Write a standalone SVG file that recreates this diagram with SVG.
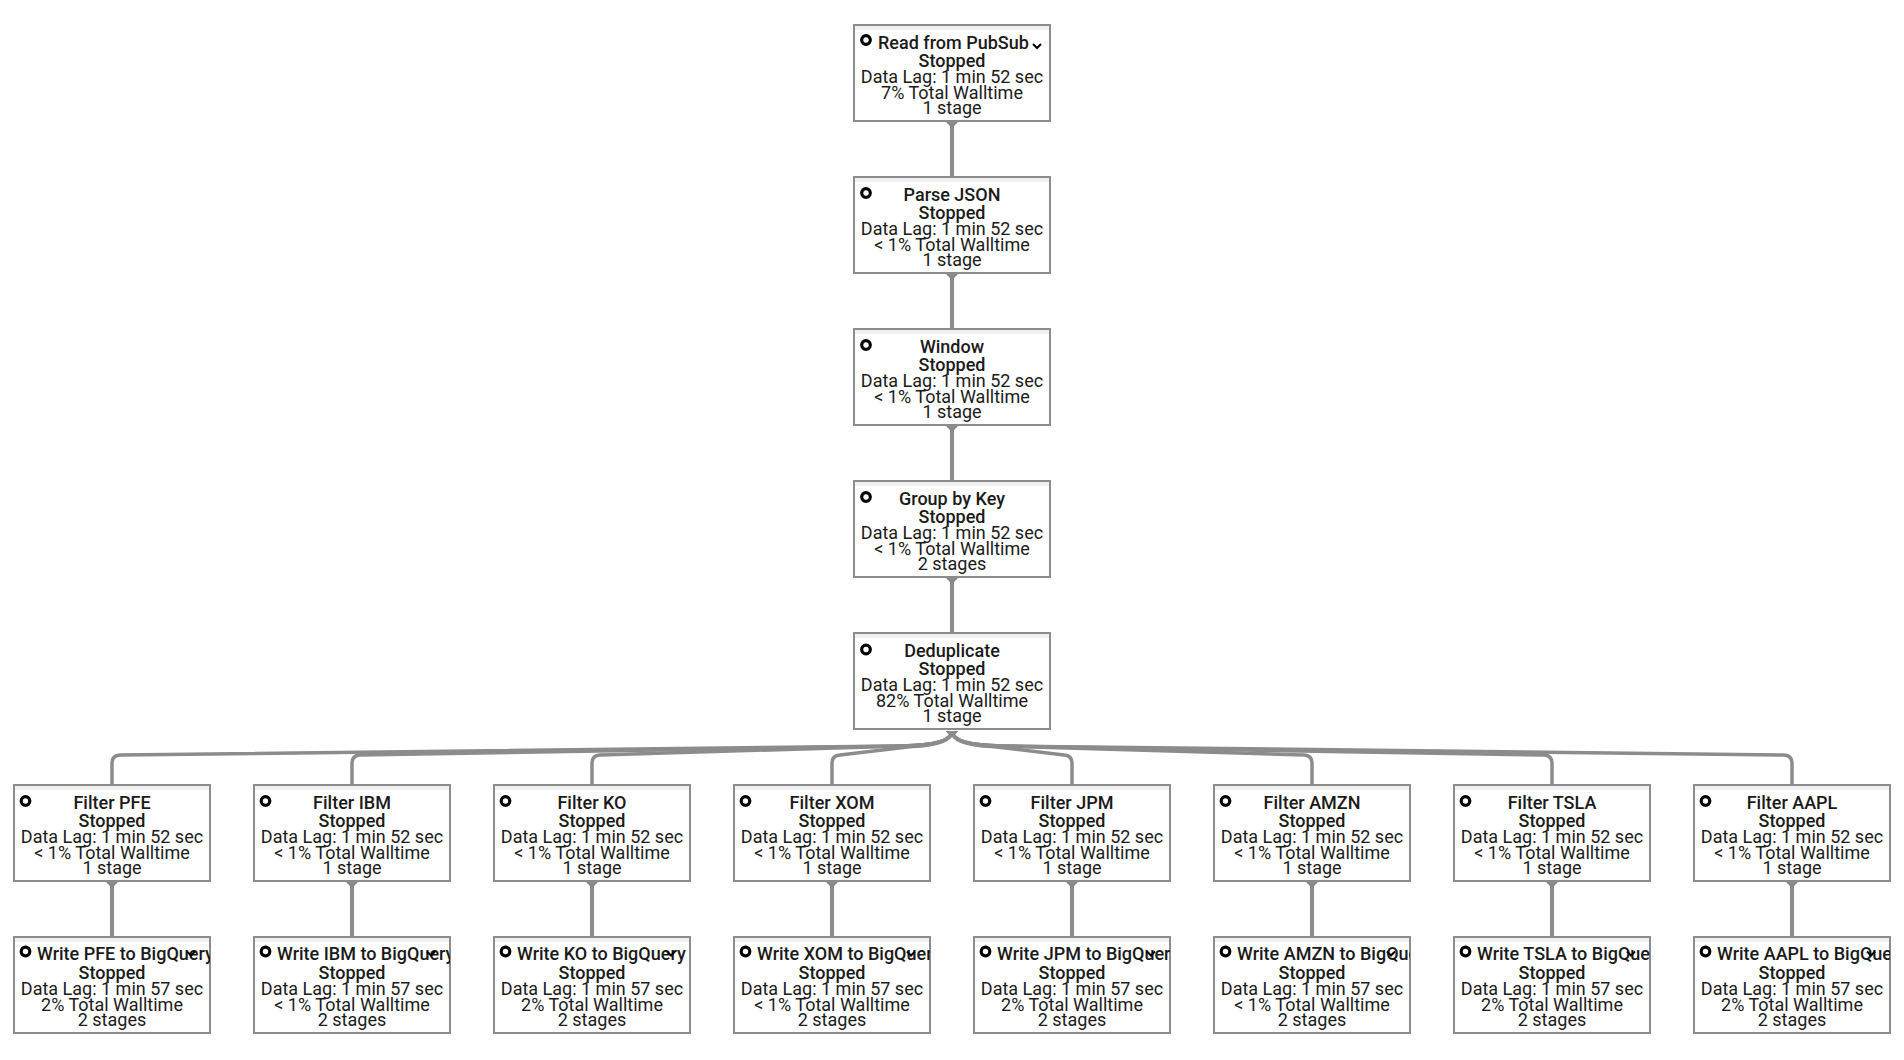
<svg xmlns="http://www.w3.org/2000/svg" width="1904" height="1060" viewBox="0 0 1904 1060">
<defs>
<style>
.box{fill:#fff;stroke:#8c8c8c;stroke-width:2}
.band{fill:#f1f1f1}
.ico{fill:none;stroke:#000;stroke-width:3.2}
.chev{fill:none;stroke:#000;stroke-width:2}
text{font-family:Roboto,"Liberation Sans",sans-serif;font-size:18px;fill:#1a1a1a}
.t{font-weight:500;text-anchor:middle}
.tl{font-weight:500;text-anchor:start}
.s{font-weight:500;text-anchor:middle}
.l{text-anchor:middle}
.edge{fill:none;stroke:#8c8c8c;stroke-width:4;marker-start:url(#tri)}
.fan{fill:none;stroke:#8c8c8c;stroke-width:3.5;marker-start:url(#tri)}
</style>
<marker id="tri" viewBox="0 0 12 6" refX="6" refY="0" markerWidth="12" markerHeight="6" markerUnits="userSpaceOnUse" orient="0" overflow="visible">
<path d="M0,0 L12,0 L7,5.5 Q6,6.5 5,5.5 Z" fill="#8c8c8c"/>
</marker>
<clipPath id="clipbox" clipPathUnits="userSpaceOnUse"><rect x="0" y="0" width="197" height="98"/></clipPath>
</defs>
<rect width="1904" height="1060" fill="#fff"/>

<g id="connectors">
<path class="edge" d="M952,122 L952,176"/>
<path class="edge" d="M952,274 L952,328"/>
<path class="edge" d="M952,426 L952,480"/>
<path class="edge" d="M952,578 L952,632"/>
<path class="fan" d="M952,731 Q952,745 902,746 L120,755 Q112,755.5 112,763 L112,784"/>
<path class="fan" d="M952,731 Q952,745 902,746 L360,755 Q352,755.5 352,763 L352,784"/>
<path class="fan" d="M952,731 Q952,745 902,746 L600,755 Q592,755.5 592,763 L592,784"/>
<path class="fan" d="M952,731 Q952,745 912,746.5 L840,755 Q832,755.5 832,763 L832,784"/>
<path class="fan" d="M952,731 Q952,745 992,746.5 L1064,755 Q1072,755.5 1072,763 L1072,784"/>
<path class="fan" d="M952,731 Q952,745 1002,746 L1304,755 Q1312,755.5 1312,763 L1312,784"/>
<path class="fan" d="M952,731 Q952,745 1002,746 L1544,755 Q1552,755.5 1552,763 L1552,784"/>
<path class="fan" d="M952,731 Q952,745 1002,746 L1784,755 Q1792,755.5 1792,763 L1792,784"/>
<path class="edge" d="M112,882 L112,936"/>
<path class="edge" d="M352,882 L352,936"/>
<path class="edge" d="M592,882 L592,936"/>
<path class="edge" d="M832,882 L832,936"/>
<path class="edge" d="M1072,882 L1072,936"/>
<path class="edge" d="M1312,882 L1312,936"/>
<path class="edge" d="M1552,882 L1552,936"/>
<path class="edge" d="M1792,882 L1792,936"/>
</g>

<g id="read-pubsub" transform="translate(853,24)">
<rect class="box" x="1" y="1" width="196" height="96"/><rect class="band" x="2" y="2" width="194" height="4"/>
<circle class="ico" cx="13" cy="16" r="4.3"/>
<text class="tl" x="25" y="25">Read from PubSub</text>
<polyline class="chev" points="180,20 184,24 188,20"/>
<text class="s" x="99" y="42.5">Stopped</text>
<text class="l" x="99" y="58.5">Data Lag: 1 min 52 sec</text>
<text class="l" x="99" y="74.5">7% Total Walltime</text>
<text class="l" x="99" y="90">1 stage</text>
</g>

<g id="parse-json" transform="translate(853,176)">
<rect class="box" x="1" y="1" width="196" height="96"/><rect class="band" x="2" y="2" width="194" height="4"/>
<circle class="ico" cx="13" cy="17" r="4.3"/>
<text class="t" x="99" y="25">Parse JSON</text>
<text class="s" x="99" y="42.5">Stopped</text>
<text class="l" x="99" y="58.5">Data Lag: 1 min 52 sec</text>
<text class="l" x="99" y="74.5">&lt; 1% Total Walltime</text>
<text class="l" x="99" y="90">1 stage</text>
</g>

<g id="window" transform="translate(853,328)">
<rect class="box" x="1" y="1" width="196" height="96"/><rect class="band" x="2" y="2" width="194" height="4"/>
<circle class="ico" cx="13" cy="17" r="4.3"/>
<text class="t" x="99" y="25">Window</text>
<text class="s" x="99" y="42.5">Stopped</text>
<text class="l" x="99" y="58.5">Data Lag: 1 min 52 sec</text>
<text class="l" x="99" y="74.5">&lt; 1% Total Walltime</text>
<text class="l" x="99" y="90">1 stage</text>
</g>

<g id="group-by-key" transform="translate(853,480)">
<rect class="box" x="1" y="1" width="196" height="96"/><rect class="band" x="2" y="2" width="194" height="4"/>
<circle class="ico" cx="13" cy="17" r="4.3"/>
<text class="t" x="99" y="25">Group by Key</text>
<text class="s" x="99" y="42.5">Stopped</text>
<text class="l" x="99" y="58.5">Data Lag: 1 min 52 sec</text>
<text class="l" x="99" y="74.5">&lt; 1% Total Walltime</text>
<text class="l" x="99" y="90">2 stages</text>
</g>

<g id="deduplicate" transform="translate(853,632)">
<rect class="box" x="1" y="1" width="196" height="96"/><rect class="band" x="2" y="2" width="194" height="4"/>
<circle class="ico" cx="13" cy="17.5" r="4.3"/>
<text class="t" x="99" y="25">Deduplicate</text>
<text class="s" x="99" y="42.5">Stopped</text>
<text class="l" x="99" y="58.5">Data Lag: 1 min 52 sec</text>
<text class="l" x="99" y="74.5">82% Total Walltime</text>
<text class="l" x="99" y="90">1 stage</text>
</g>

<g id="filter-pfe" transform="translate(13,784)">
<rect class="box" x="1" y="1" width="196" height="96"/><rect class="band" x="2" y="2" width="194" height="4"/>
<circle class="ico" cx="12.5" cy="17" r="4.3"/>
<text class="t" x="99" y="25">Filter PFE</text>
<text class="s" x="99" y="42.5">Stopped</text>
<text class="l" x="99" y="58.5">Data Lag: 1 min 52 sec</text>
<text class="l" x="99" y="74.5">&lt; 1% Total Walltime</text>
<text class="l" x="99" y="90">1 stage</text>
</g>
<g id="filter-ibm" transform="translate(253,784)">
<rect class="box" x="1" y="1" width="196" height="96"/><rect class="band" x="2" y="2" width="194" height="4"/>
<circle class="ico" cx="12.5" cy="17" r="4.3"/>
<text class="t" x="99" y="25">Filter IBM</text>
<text class="s" x="99" y="42.5">Stopped</text>
<text class="l" x="99" y="58.5">Data Lag: 1 min 52 sec</text>
<text class="l" x="99" y="74.5">&lt; 1% Total Walltime</text>
<text class="l" x="99" y="90">1 stage</text>
</g>
<g id="filter-ko" transform="translate(493,784)">
<rect class="box" x="1" y="1" width="196" height="96"/><rect class="band" x="2" y="2" width="194" height="4"/>
<circle class="ico" cx="12.5" cy="17" r="4.3"/>
<text class="t" x="99" y="25">Filter KO</text>
<text class="s" x="99" y="42.5">Stopped</text>
<text class="l" x="99" y="58.5">Data Lag: 1 min 52 sec</text>
<text class="l" x="99" y="74.5">&lt; 1% Total Walltime</text>
<text class="l" x="99" y="90">1 stage</text>
</g>
<g id="filter-xom" transform="translate(733,784)">
<rect class="box" x="1" y="1" width="196" height="96"/><rect class="band" x="2" y="2" width="194" height="4"/>
<circle class="ico" cx="12.5" cy="17" r="4.3"/>
<text class="t" x="99" y="25">Filter XOM</text>
<text class="s" x="99" y="42.5">Stopped</text>
<text class="l" x="99" y="58.5">Data Lag: 1 min 52 sec</text>
<text class="l" x="99" y="74.5">&lt; 1% Total Walltime</text>
<text class="l" x="99" y="90">1 stage</text>
</g>
<g id="filter-jpm" transform="translate(973,784)">
<rect class="box" x="1" y="1" width="196" height="96"/><rect class="band" x="2" y="2" width="194" height="4"/>
<circle class="ico" cx="12.5" cy="17" r="4.3"/>
<text class="t" x="99" y="25">Filter JPM</text>
<text class="s" x="99" y="42.5">Stopped</text>
<text class="l" x="99" y="58.5">Data Lag: 1 min 52 sec</text>
<text class="l" x="99" y="74.5">&lt; 1% Total Walltime</text>
<text class="l" x="99" y="90">1 stage</text>
</g>
<g id="filter-amzn" transform="translate(1213,784)">
<rect class="box" x="1" y="1" width="196" height="96"/><rect class="band" x="2" y="2" width="194" height="4"/>
<circle class="ico" cx="12.5" cy="17" r="4.3"/>
<text class="t" x="99" y="25">Filter AMZN</text>
<text class="s" x="99" y="42.5">Stopped</text>
<text class="l" x="99" y="58.5">Data Lag: 1 min 52 sec</text>
<text class="l" x="99" y="74.5">&lt; 1% Total Walltime</text>
<text class="l" x="99" y="90">1 stage</text>
</g>
<g id="filter-tsla" transform="translate(1453,784)">
<rect class="box" x="1" y="1" width="196" height="96"/><rect class="band" x="2" y="2" width="194" height="4"/>
<circle class="ico" cx="12.5" cy="17" r="4.3"/>
<text class="t" x="99" y="25">Filter TSLA</text>
<text class="s" x="99" y="42.5">Stopped</text>
<text class="l" x="99" y="58.5">Data Lag: 1 min 52 sec</text>
<text class="l" x="99" y="74.5">&lt; 1% Total Walltime</text>
<text class="l" x="99" y="90">1 stage</text>
</g>
<g id="filter-aapl" transform="translate(1693,784)">
<rect class="box" x="1" y="1" width="196" height="96"/><rect class="band" x="2" y="2" width="194" height="4"/>
<circle class="ico" cx="12.5" cy="17" r="4.3"/>
<text class="t" x="99" y="25">Filter AAPL</text>
<text class="s" x="99" y="42.5">Stopped</text>
<text class="l" x="99" y="58.5">Data Lag: 1 min 52 sec</text>
<text class="l" x="99" y="74.5">&lt; 1% Total Walltime</text>
<text class="l" x="99" y="90">1 stage</text>
</g>

<g id="write-pfe" transform="translate(13,936)">
<rect class="box" x="1" y="1" width="196" height="96"/><rect class="band" x="2" y="2" width="194" height="4"/>
<circle class="ico" cx="12.5" cy="15.5" r="4.3"/>
<text class="tl" x="24" y="24" clip-path="url(#clipbox)">Write PFE to BigQuery</text>
<polyline class="chev" points="174,15.5 178,19.5 182,15.5"/>
<text class="s" x="99" y="42.5">Stopped</text>
<text class="l" x="99" y="58.5">Data Lag: 1 min 57 sec</text>
<text class="l" x="99" y="74.5">2% Total Walltime</text>
<text class="l" x="99" y="90">2 stages</text>
</g>
<g id="write-ibm" transform="translate(253,936)">
<rect class="box" x="1" y="1" width="196" height="96"/><rect class="band" x="2" y="2" width="194" height="4"/>
<circle class="ico" cx="12.5" cy="15.5" r="4.3"/>
<text class="tl" x="24" y="24" clip-path="url(#clipbox)">Write IBM to BigQuery</text>
<polyline class="chev" points="174,15.5 178,19.5 182,15.5"/>
<text class="s" x="99" y="42.5">Stopped</text>
<text class="l" x="99" y="58.5">Data Lag: 1 min 57 sec</text>
<text class="l" x="99" y="74.5">&lt; 1% Total Walltime</text>
<text class="l" x="99" y="90">2 stages</text>
</g>
<g id="write-ko" transform="translate(493,936)">
<rect class="box" x="1" y="1" width="196" height="96"/><rect class="band" x="2" y="2" width="194" height="4"/>
<circle class="ico" cx="12.5" cy="15.5" r="4.3"/>
<text class="tl" x="24" y="24" clip-path="url(#clipbox)">Write KO to BigQuery</text>
<polyline class="chev" points="174,15.5 178,19.5 182,15.5"/>
<text class="s" x="99" y="42.5">Stopped</text>
<text class="l" x="99" y="58.5">Data Lag: 1 min 57 sec</text>
<text class="l" x="99" y="74.5">2% Total Walltime</text>
<text class="l" x="99" y="90">2 stages</text>
</g>
<g id="write-xom" transform="translate(733,936)">
<rect class="box" x="1" y="1" width="196" height="96"/><rect class="band" x="2" y="2" width="194" height="4"/>
<circle class="ico" cx="12.5" cy="15.5" r="4.3"/>
<text class="tl" x="24" y="24" clip-path="url(#clipbox)">Write XOM to BigQuery</text>
<polyline class="chev" points="174,15.5 178,19.5 182,15.5"/>
<text class="s" x="99" y="42.5">Stopped</text>
<text class="l" x="99" y="58.5">Data Lag: 1 min 57 sec</text>
<text class="l" x="99" y="74.5">&lt; 1% Total Walltime</text>
<text class="l" x="99" y="90">2 stages</text>
</g>
<g id="write-jpm" transform="translate(973,936)">
<rect class="box" x="1" y="1" width="196" height="96"/><rect class="band" x="2" y="2" width="194" height="4"/>
<circle class="ico" cx="12.5" cy="15.5" r="4.3"/>
<text class="tl" x="24" y="24" clip-path="url(#clipbox)">Write JPM to BigQuery</text>
<polyline class="chev" points="174,15.5 178,19.5 182,15.5"/>
<text class="s" x="99" y="42.5">Stopped</text>
<text class="l" x="99" y="58.5">Data Lag: 1 min 57 sec</text>
<text class="l" x="99" y="74.5">2% Total Walltime</text>
<text class="l" x="99" y="90">2 stages</text>
</g>
<g id="write-amzn" transform="translate(1213,936)">
<rect class="box" x="1" y="1" width="196" height="96"/><rect class="band" x="2" y="2" width="194" height="4"/>
<circle class="ico" cx="12.5" cy="15.5" r="4.3"/>
<text class="tl" x="24" y="24" clip-path="url(#clipbox)">Write AMZN to BigQuery</text>
<polyline class="chev" points="174,15.5 178,19.5 182,15.5"/>
<text class="s" x="99" y="42.5">Stopped</text>
<text class="l" x="99" y="58.5">Data Lag: 1 min 57 sec</text>
<text class="l" x="99" y="74.5">&lt; 1% Total Walltime</text>
<text class="l" x="99" y="90">2 stages</text>
</g>
<g id="write-tsla" transform="translate(1453,936)">
<rect class="box" x="1" y="1" width="196" height="96"/><rect class="band" x="2" y="2" width="194" height="4"/>
<circle class="ico" cx="12.5" cy="15.5" r="4.3"/>
<text class="tl" x="24" y="24" clip-path="url(#clipbox)">Write TSLA to BigQuery</text>
<polyline class="chev" points="174,15.5 178,19.5 182,15.5"/>
<text class="s" x="99" y="42.5">Stopped</text>
<text class="l" x="99" y="58.5">Data Lag: 1 min 57 sec</text>
<text class="l" x="99" y="74.5">2% Total Walltime</text>
<text class="l" x="99" y="90">2 stages</text>
</g>
<g id="write-aapl" transform="translate(1693,936)">
<rect class="box" x="1" y="1" width="196" height="96"/><rect class="band" x="2" y="2" width="194" height="4"/>
<circle class="ico" cx="12.5" cy="15.5" r="4.3"/>
<text class="tl" x="24" y="24" clip-path="url(#clipbox)">Write AAPL to BigQuery</text>
<polyline class="chev" points="174,15.5 178,19.5 182,15.5"/>
<text class="s" x="99" y="42.5">Stopped</text>
<text class="l" x="99" y="58.5">Data Lag: 1 min 57 sec</text>
<text class="l" x="99" y="74.5">2% Total Walltime</text>
<text class="l" x="99" y="90">2 stages</text>
</g>
</svg>
